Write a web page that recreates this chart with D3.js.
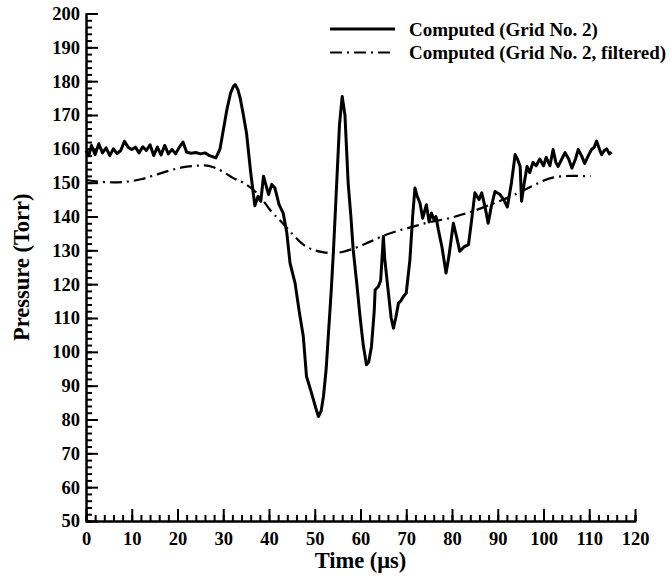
<!DOCTYPE html>
<html lang="en">
<head>
    <meta charset="UTF-8">
    <title>Pressure vs Time</title>
    <style>
        body { margin: 0; background: #fff; }
        text { font-family: "Liberation Serif", "Times New Roman", serif; font-weight: bold; fill: #000; }
        .axis path, .axis line { stroke: #000; stroke-width: 2; }
        .axis text { font-size: 18.5px; font-family: "Liberation Serif", "Times New Roman", serif; }
    </style>
</head>
<body>
    <svg width="672" height="578"></svg>
    <script src="https://cdn.jsdelivr.net/npm/d3@7/dist/d3.min.js"></script>
    <script>
        // raw computed signal (Grid No. 2)
        var rawTime = [0, 0.6, 1.2, 2, 2.8, 3.6, 4.4, 5.2, 6, 6.8, 7.6, 8.4, 9.2, 10, 10.8, 11.6, 12.4, 13.2, 14, 14.8,
            15.6, 16.4, 17.2, 18, 18.8, 19.6, 20.4, 21.2, 22, 23, 24, 25, 26, 27, 28.4, 29.3, 30.2, 30.8, 31.6, 32.2,
            32.6, 33.2, 33.7, 34.4, 35.1, 36, 36.9, 37.6, 38.2, 38.8, 39.4, 39.9, 40.6, 41.3, 42.2, 43.1, 43.9, 44.6, 45.7, 46.6,
            47.5, 48.2, 49.3, 50.2, 50.8, 51.4, 51.9, 52.5, 53, 53.6, 54.1, 54.8, 55.4, 56, 56.6, 57.3, 57.9, 58.4, 59.2, 59.9,
            60.6, 61.3, 61.8, 62.4, 63, 63.2, 63.9, 64.4, 65, 65.3, 66.1, 66.7, 67.2, 67.7, 68.3, 68.8, 69.4, 70, 70.8, 71.4,
            71.9, 72.4, 73, 73.6, 74.4, 75, 75.5, 76.1, 76.5, 77, 77.8, 78.7, 79.3, 80.3, 81, 81.7, 82.6, 83.6, 84.3, 85,
            85.9, 86.5, 87.2, 87.9, 88.6, 89.4, 90.5, 91.3, 92.1, 93, 93.8, 94.3, 94.9, 95.2, 95.8, 96.4, 97, 97.7, 98.4, 99.2,
            100, 100.6, 101.4, 102.1, 102.7, 103.2, 104, 104.7, 105.5, 106.2, 107, 107.6, 108.3, 109, 109.8, 110.5, 111.1, 111.6, 112.2, 112.7,
            113.3, 113.8, 114.4, 114.9];
        var rawPressure = [159.5, 158, 161, 158.3, 161.5, 158.8, 160.3, 158, 160, 158.6, 159.5, 162.2, 160.5, 159.8, 160.5, 158.8, 160.6, 159.5, 161.2, 158,
            160.5, 158.2, 161, 158.5, 159.8, 158.5, 160.5, 162, 159, 158.7, 158.9, 158.5, 158.8, 158, 157.3, 160, 167, 171.6, 176.5, 178.4,
            179, 177.5, 175, 170, 164.5, 153, 143.2, 146, 144.5, 151.9, 149, 146.5, 149.5, 148.4, 143.5, 141, 135.1, 126.2, 120.3, 112,
            104.5, 92.7, 87.8, 83.5, 80.9, 82.5, 86.8, 95, 105.5, 118, 130.2, 149.9, 167, 175.5, 170, 149.9, 140, 130.2, 120, 110.4,
            102, 96.2, 97, 101.6, 112, 118.3, 119.3, 121, 134.1, 127.5, 117.4, 110, 107, 110, 114.4, 115, 116.4, 117.4, 127.2, 140,
            148.4, 146, 144, 139.5, 143.5, 138.4, 141, 139, 140, 136.2, 131, 123.3, 128, 138, 134, 129.7, 131, 131.7, 139, 147,
            145, 147, 143, 138, 143, 147.4, 146.5, 145, 142.8, 150, 158.3, 157, 154.8, 144.5, 150, 154.8, 153, 156, 155, 157,
            155, 157.5, 155, 159.8, 156, 154.8, 157, 158.9, 157, 154.3, 157, 159.8, 158, 155.7, 158, 159.8, 160.5, 162.3, 160, 158.3,
            159.5, 160, 158.5, 159];

        // filtered signal
        var filtTime = [0, 3, 6, 9, 12, 15, 18, 21, 24, 26, 28, 30, 32, 35, 38, 40.2, 43, 45, 47.5, 50,
            52, 54, 56, 58, 60, 62, 65, 68, 71.5, 75, 78.8, 82, 84, 88, 91.2, 95, 98, 102, 106, 110.3];
        var filtPressure = [150.8, 150.3, 150.1, 150.3, 151, 152.2, 153.5, 154.5, 155, 155.1, 154.5, 153.2, 151.5, 149.5, 146, 142, 138, 135, 131.7, 130,
            129.4, 129.2, 129.5, 130.3, 131.3, 132.5, 134.3, 135.7, 137, 138.3, 139.3, 140.5, 141.3, 143.3, 145, 147.3, 149.3, 151.5, 152, 151.9];

        var xMajor = d3.range(0, 121, 10);
        var yMajor = d3.range(50, 201, 10);
        var legendLabels = ["Computed (Grid No. 2)", "Computed (Grid No. 2, filtered)"];

        var svg = d3.select("svg");
        svg.append("rect").attr("width", 672).attr("height", 578).attr("fill", "#fff");

        var x = d3.scaleLinear().domain([0, 120]).range([86, 635]);
        var y = d3.scaleLinear().domain([50, 200]).range([521, 13.5]);

        // minor ticks first
        svg.append("g")
            .attr("class", "axis")
            .attr("transform", "translate(0," + y(50) + ")")
            .call(d3.axisBottom(x).tickValues(d3.range(0, 121, 2)).tickSize(-6).tickFormat(""))
            .call(function(g) { g.selectAll("line").attr("stroke-width", 1.3); });

        svg.append("g")
            .attr("class", "axis")
            .attr("transform", "translate(" + x(0) + ",0)")
            .call(d3.axisLeft(y).tickValues(d3.range(50, 201, 2)).tickSize(-6).tickFormat(""))
            .call(function(g) { g.selectAll("line").attr("stroke-width", 1.3); });

        // major ticks + labels
        svg.append("g")
            .attr("class", "axis")
            .attr("transform", "translate(0," + y(50) + ")")
            .call(d3.axisBottom(x).tickValues(xMajor).tickSize(-12).tickPadding(6).tickSizeOuter(0))
            .call(function(g) { g.selectAll("text").attr("dy", "0.95em"); });

        svg.append("g")
            .attr("class", "axis")
            .attr("transform", "translate(" + x(0) + ",0)")
            .call(d3.axisLeft(y).tickValues(yMajor).tickSize(-12).tickPadding(6).tickSizeOuter(0));

        // axis titles
        svg.append("text")
            .attr("x", (x(0) + x(120)) / 2)
            .attr("y", 568)
            .attr("text-anchor", "middle")
            .style("font-size", "22.5px")
            .text("Time (\u03bcs)");

        svg.append("text")
            .attr("transform", "translate(29," + (y(50) + y(200)) / 2 + ") rotate(-90)")
            .attr("text-anchor", "middle")
            .style("font-size", "22.5px")
            .text("Pressure (Torr)");

        var line = d3.line()
            .x(function(d) { return x(d[0]); })
            .y(function(d) { return y(d[1]); });

        var rawData = d3.zip(rawTime, rawPressure);
        var filtData = d3.zip(filtTime, filtPressure);

        svg.append("path")
            .datum(filtData)
            .attr("d", line.curve(d3.curveMonotoneX))
            .attr("fill", "none")
            .attr("stroke", "#000")
            .attr("stroke-width", 2.2)
            .attr("stroke-dasharray", "12,5,2,5");

        svg.append("path")
            .datum(rawData)
            .attr("d", line.curve(d3.curveLinear))
            .attr("fill", "none")
            .attr("stroke", "#000")
            .attr("stroke-width", 3)
            .attr("stroke-linejoin", "round");

        // legend
        var legend = svg.append("g");
        var styles = [{w: 3, dash: null}, {w: 2.2, dash: "12,5,2,5"}];
        legendLabels.forEach(function(label, i) {
            var ly = 29 + i * 23.5;
            legend.append("line")
                .attr("x1", 330).attr("x2", 395)
                .attr("y1", ly).attr("y2", ly)
                .attr("stroke", "#000")
                .attr("stroke-width", styles[i].w)
                .attr("stroke-dasharray", styles[i].dash);
            legend.append("text")
                .attr("x", 409)
                .attr("y", ly + 6.5)
                .style("font-size", "19px")
                .text(label);
        });
    </script>
</body>
</html>
